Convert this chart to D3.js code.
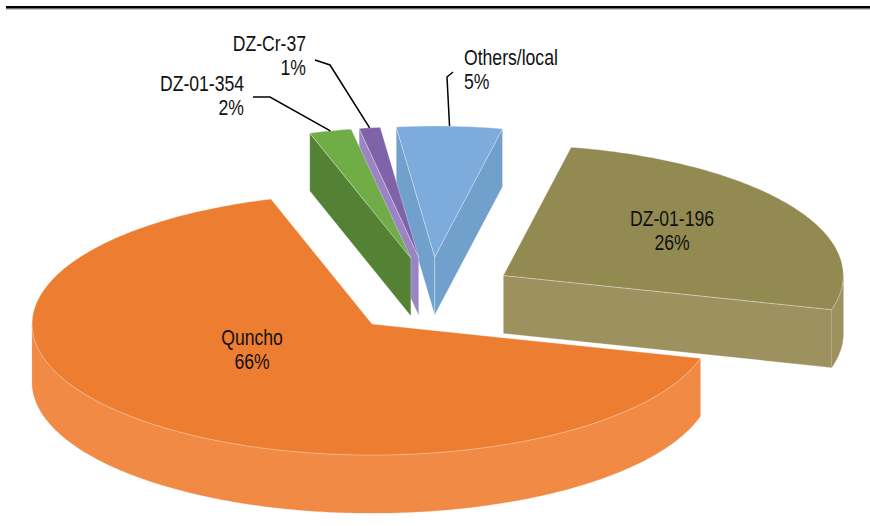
<!DOCTYPE html>
<html>
<head>
<meta charset="utf-8">
<script src="https://cdn.jsdelivr.net/npm/d3@7"></script>
<style>
  html, body { margin: 0; padding: 0; background: #fff; }
  svg { display: block; }
  text { font-family: "Liberation Sans", Arial, sans-serif; fill: #111; }
</style>
</head>
<body>
<svg id="chart" width="870" height="526"></svg>
<script>
// Varieties and their shares (%), listed clockwise from the start angle
const varieties = ["DZ-01-354", "DZ-Cr-37", "Others/local", "DZ-01-196", "Quncho"];
const shares = [2, 1, 5, 26, 66];
const pctLabels = ["2%", "1%", "5%", "26%", "66%"];

// face colours: top, radial cut faces, outer rim wall
const topColors  = ["#70AD47", "#7F62A8", "#7CABDC", "#938A52", "#ED7D31"];
const cutColors  = ["#548235", "#9B84C4", "#71A0CD", "#9C915F", "#F08A45"];
const wallColors = ["#548235", "#9B84C4", "#71A0CD", "#9C915F", "#F08A45"];

const W = 870, H = 526;
const svg = d3.select("#chart");

// projected pie geometry
const cx = 431, cy = 296;      // centre of the un-exploded pie
const rx = 340, ry = 131;      // ellipse radii of the top face
const depth = 58;              // thickness of the disc
const explodeX = 85, explodeY = 39; // exploded offset of each slice
const startDeg = -17.3;

const pie = d3.pie().sort(null)
  .startAngle(startDeg * Math.PI / 180)
  .endAngle(startDeg * Math.PI / 180 + 2 * Math.PI);
const arcs = pie(shares).map((d, i) => {
  const mid = (d.startAngle + d.endAngle) / 2;
  return {
    ...d, i, mid,
    ox: cx + explodeX * Math.sin(mid),
    oy: cy - explodeY * Math.cos(mid)
  };
});

const rim = (s, a, dz = 0) => [s.ox + rx * Math.sin(a), s.oy - ry * Math.cos(a) + dz];
const line = d3.line();
function arcPts(s, a0, a1, dz) {
  const n = Math.max(2, Math.ceil(Math.abs(a1 - a0) / 0.01));
  return d3.range(n + 1).map(k => rim(s, a0 + (a1 - a0) * k / n, dz));
}

// top border rule
svg.append("rect").attr("x", 6).attr("y", 6).attr("width", W - 6).attr("height", 2.7).attr("fill", "#000");
svg.append("rect").attr("x", 6).attr("y", 8.7).attr("width", W - 6).attr("height", 1).attr("fill", "#b5b5b5");

const edgeStroke = "rgba(255,255,255,0.45)";

// far slices first
const order = arcs.slice().sort((a, b) => Math.cos(b.mid) - Math.cos(a.mid));
const g = svg.append("g");

order.forEach(s => {
  const a = s.startAngle, b = s.endAngle;
  const apexT = [s.ox, s.oy], apexB = [s.ox, s.oy + depth];

  // radial cut faces that face the viewer
  if (Math.sin(a) < 0) {
    g.append("path")
      .attr("d", line([apexT, rim(s, a), rim(s, a, depth), apexB]) + "Z")
      .attr("fill", cutColors[s.i]).attr("stroke", edgeStroke).attr("stroke-width", 0.6);
  }
  if (Math.sin(b) > 0) {
    g.append("path")
      .attr("d", line([apexT, rim(s, b), rim(s, b, depth), apexB]) + "Z")
      .attr("fill", cutColors[s.i]).attr("stroke", edgeStroke).attr("stroke-width", 0.6);
  }

  // front part of the outer rim wall (angles between 90° and 270°)
  [-2 * Math.PI, 0, 2 * Math.PI].forEach(shift => {
    const lo = Math.max(a, Math.PI / 2 + shift), hi = Math.min(b, 3 * Math.PI / 2 + shift);
    if (hi > lo) {
      const pts = arcPts(s, lo, hi, 0).concat(arcPts(s, hi, lo, depth));
      g.append("path").attr("d", line(pts) + "Z")
        .attr("fill", wallColors[s.i]).attr("stroke", wallColors[s.i]).attr("stroke-width", 0.3);
    }
  });

  // top face
  const topPts = [apexT].concat(arcPts(s, a, b, 0));
  g.append("path").attr("d", line(topPts) + "Z")
    .attr("fill", topColors[s.i]).attr("stroke", edgeStroke).attr("stroke-width", 0.7);
});

// data labels (condensed by a horizontal scale)
const fs = 22, lh = 24.5, squeeze = 0.8;
function label(x, y, i, anchor) {
  const t = svg.append("text").attr("font-size", fs).attr("text-anchor", anchor)
    .attr("transform", `translate(${x},${y}) scale(${squeeze},1)`);
  t.append("tspan").attr("x", 0).attr("y", 0).text(varieties[i]);
  t.append("tspan").attr("x", 0).attr("y", lh).text(pctLabels[i]);
}
// inside labels
label(672, 226, 3, "middle");
label(252, 345, 4, "middle");
// outside labels with leader lines
label(244, 91, 0, "end");
label(306, 51, 1, "end");
label(464, 65, 2, "start");

const leader = (pts) => svg.append("path").attr("d", line(pts))
  .attr("fill", "none").attr("stroke", "#000").attr("stroke-width", 1.5);
const rimMid = i => rim(arcs[i], arcs[i].mid);
leader([[253, 97], [270, 97], rimMid(0)]);
leader([[315, 60], [330, 65], rimMid(1)]);
leader([[453, 72], [447, 77], rimMid(2)]);
</script>
</body>
</html>
